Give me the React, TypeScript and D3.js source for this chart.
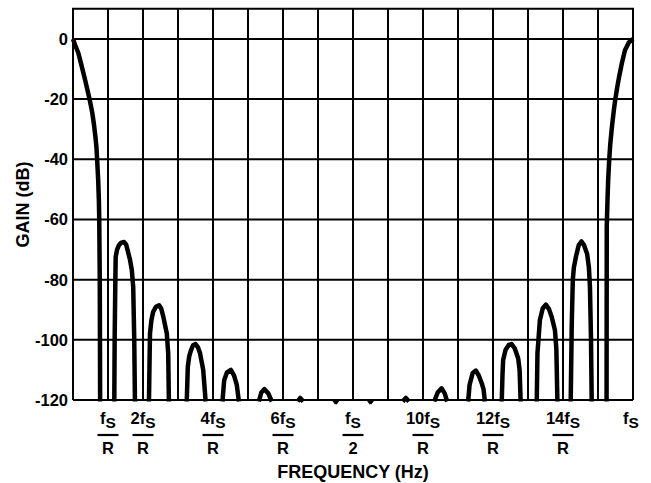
import React, { Component } from 'react';
import * as d3 from 'd3';

// frequency in multiples of fs/R, NaN splits the curve into lobes
const freq = [
  0, 0.066, 0.15, 0.23, 0.35, 0.48, 0.55, 0.6, 0.64, 0.67, 0.69, 0.72, 0.74, 0.75, 0.765, 0.77, 0.775, NaN,
  1.18, 1.19, 1.21, 1.22, 1.26, 1.31, 1.38, 1.46, 1.52, 1.56, 1.63, 1.68, 1.72, 1.75, 1.77, NaN,
  2.17, 2.19, 2.2, 2.24, 2.29, 2.37, 2.46, 2.52, 2.58, 2.68, 2.72, 2.74, NaN,
  3.25, 3.28, 3.32, 3.37, 3.43, 3.5, 3.57, 3.63, 3.72, 3.79, NaN,
  4.27, 4.32, 4.4, 4.51, 4.6, 4.68, 4.74, NaN,
  5.31, 5.38, 5.47, 5.58, 5.68, NaN,
  6.42, 6.49, 6.58, NaN,
  7.45, 7.51, 7.57, NaN,
  8.44, 8.5, 8.56, NaN,
  9.42, 9.51, 9.6, NaN,
  10.32, 10.42, 10.53, 10.62, 10.69, NaN,
  11.29, 11.33, 11.42, 11.51, 11.6, 11.68, 11.73, 11.77, NaN,
  12.25, 12.27, 12.29, 12.36, 12.45, 12.53, 12.62, 12.72, 12.76, 12.79, NaN,
  13.25, 13.27, 13.34, 13.42, 13.51, 13.6, 13.68, 13.77, 13.81, 13.84, NaN,
  14.22, 14.25, 14.28, 14.31, 14.37, 14.45, 14.53, 14.6, 14.69, 14.74, 14.77, 14.8, 14.82, NaN,
  15.245, 15.25, 15.27, 15.29, 15.32, 15.35, 15.4, 15.45, 15.49, 15.55, 15.6, 15.68, 15.77, 15.88, 16
];

const gainDb = [
  0, -2.2, -4.6, -8.2, -13.8, -20.4, -24.5, -28.5, -32.5, -36, -40.3, -47, -54, -60.2, -80, -100, -120.5, NaN,
  -120.5, -100, -80, -72.4, -70, -68.6, -67.7, -67.5, -68.4, -70.2, -73.5, -76.8, -82.4, -100, -120.5, NaN,
  -120.5, -105, -97.9, -93.5, -90.7, -89, -88.5, -89.6, -92.3, -97.9, -104.5, -120.5, NaN,
  -120.5, -109, -105.5, -103.5, -101.8, -101.4, -102.5, -104.5, -110, -120.5, NaN,
  -120.5, -113.4, -110.8, -110, -111.8, -115, -120.5, NaN,
  -120.5, -117.5, -116.4, -117.8, -120.5, NaN,
  -120.5, -119.3, -120.5, NaN,
  -120.9, -120.4, -120.9, NaN,
  -120.9, -120.4, -120.9, NaN,
  -120.5, -119.3, -120.5, NaN,
  -120.5, -117.5, -116.1, -117.8, -120.5, NaN,
  -120.5, -115, -111, -110.2, -112, -114.5, -116.5, -120.5, NaN,
  -120.5, -112, -106.7, -103.3, -101.7, -101.4, -102.8, -106.2, -110, -120.5, NaN,
  -120.5, -104.5, -93.4, -89.6, -88.3, -89.8, -92.5, -96.8, -103, -120.5, NaN,
  -120.5, -95, -80.2, -76, -72.4, -68.5, -67.3, -68.5, -71.5, -76, -82.4, -100, -120.5, NaN,
  -120.5, -62.5, -54, -47, -40.3, -35, -29, -24, -20.4, -16, -12.8, -8.2, -3.8, -1.2, 0
];

const yTicks = [0, -20, -40, -60, -80, -100, -120];
const xGrid = [0, 1, 2, 3, 4, 5, 6, 7, 8, 9, 10, 11, 12, 13, 14, 15, 16];
const xLabelPos = [1, 2, 4, 6, 8, 10, 12, 14, 16];
const xLabelNum = ['f', '2f', '4f', '6f', 'f', '10f', '12f', '14f', 'f'];
const xLabelDen = ['R', 'R', 'R', 'R', '2', 'R', 'R', 'R', ''];

const font = '"Liberation Sans", Arial, Helvetica, sans-serif';

export default class App extends Component {
  x: d3.ScaleLinear<number, number>;
  y: d3.ScaleLinear<number, number>;

  constructor(props: any) {
    super(props);
    this.x = d3.scaleLinear().domain([0, 16]).range([73, 633]);
    this.y = d3.scaleLinear().domain([-120, 10]).range([400, 8.8]);
  }

  render() {
    const x = this.x;
    const y = this.y;
    const line = d3.line<number>()
      .defined((i) => !isNaN(gainDb[i]))
      .x((i) => x(freq[i]))
      .y((i) => y(gainDb[i]));

    return (
      <svg width={651} height={483} style={{ position: 'absolute', left: 0, top: 0, background: '#fff' }}
           fontFamily={font} fontWeight="bold">
        <GridLines x={x} y={y} />
        <path d={line(d3.range(freq.length)) || ''} fill="none" stroke="#000" strokeWidth={4.5}
              strokeLinejoin="round" />
        <YAxisLabels y={y} />
        <XAxisLabels x={x} />
        <text x={353} y={478} textAnchor="middle" fontSize={18}>FREQUENCY (Hz)</text>
        <text transform={`translate(29,${y(-55)}) rotate(-90)`} textAnchor="middle" fontSize={18}>GAIN (dB)</text>
      </svg>
    );
  }
}

class GridLines extends Component<any> {
  render() {
    const { x, y } = this.props;
    const [y0, y1] = y.range();
    const [x0, x1] = x.range();
    return (
      <g stroke="#000" strokeWidth={2}>
        {xGrid.map((d) => (
          <line key={'v' + d} x1={x(d)} x2={x(d)} y1={y1} y2={y0} />
        ))}
        {yTicks.map((d) => (
          <line key={'h' + d} x1={x0} x2={x1} y1={y(d)} y2={y(d)} />
        ))}
        <line x1={x0 - 1} x2={x1 + 1} y1={y1} y2={y1} />
      </g>
    );
  }
}

class YAxisLabels extends Component<any> {
  render() {
    const { y } = this.props;
    return (
      <g fontSize={16.5} textAnchor="end">
        {yTicks.map((d) => (
          <text key={d} x={68} y={y(d)} dy="0.36em">{d}</text>
        ))}
      </g>
    );
  }
}

class XAxisLabels extends Component<any> {
  render() {
    const { x } = this.props;
    return (
      <g fontSize={16.5} textAnchor="middle">
        {xLabelPos.map((d, i) => (
          <g key={d} transform={`translate(${x(d)},0)`}>
            <text y={424} x={xLabelDen[i] ? 0 : -2}>
              {xLabelNum[i]}<tspan dy={4} fontSize={15.5}>S</tspan>
            </text>
            {xLabelDen[i] && (
              <g>
                <line x1={-10.5} x2={10.5} y1={435} y2={435} stroke="#000" strokeWidth={2.2} />
                <text y={453.5}>{xLabelDen[i]}</text>
              </g>
            )}
          </g>
        ))}
      </g>
    );
  }
}
